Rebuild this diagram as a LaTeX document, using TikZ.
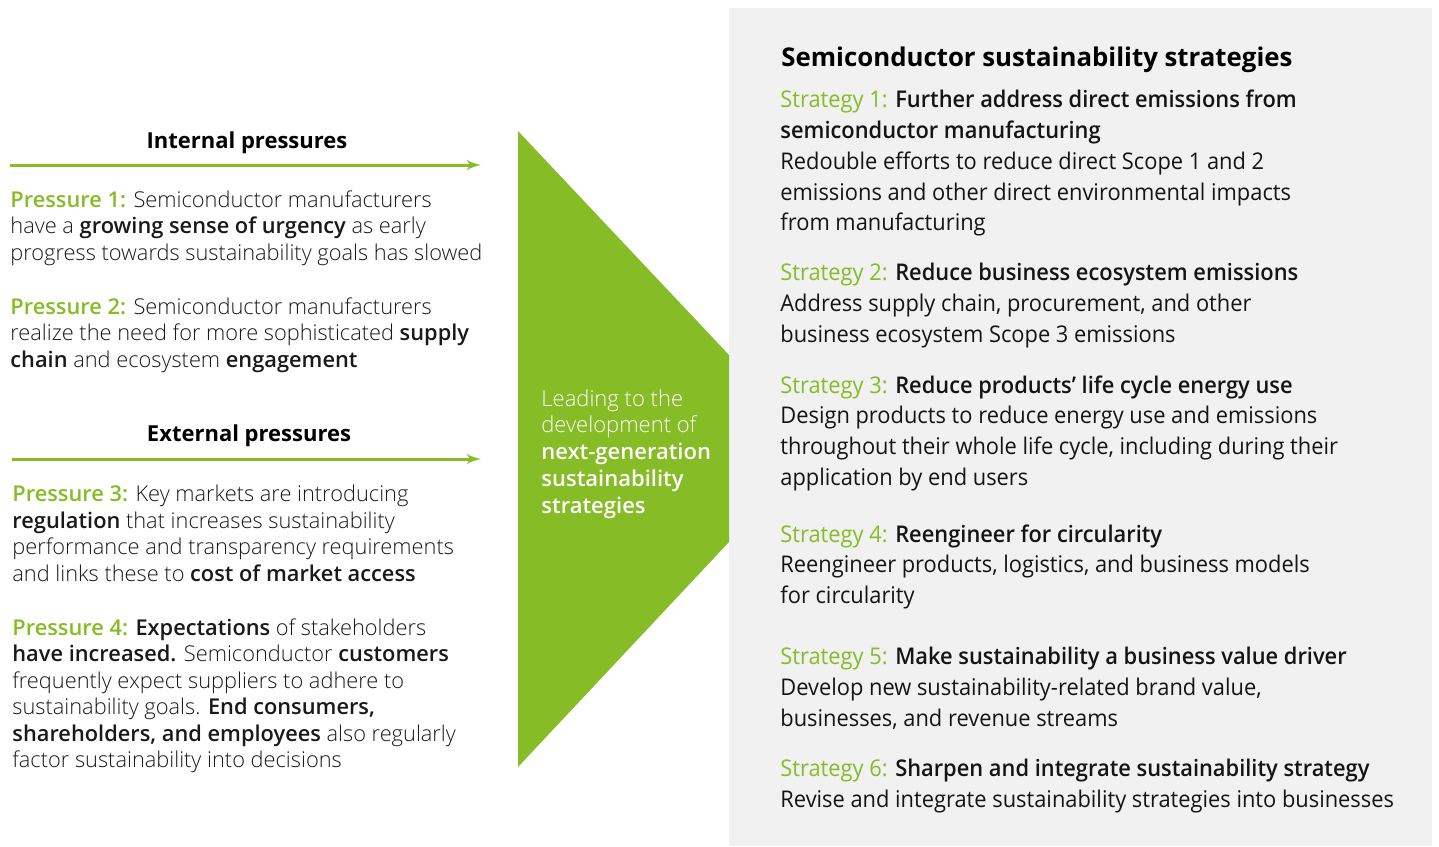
\documentclass[tikz,border=0pt]{standalone}
\usepackage{fontspec}
\setmainfont{Open Sans}
\newfontfamily\lightfont{Open Sans Light}[BoldFont={Open Sans Semibold}]
\newfontfamily\semifont{Open Sans Semibold}
\newfontfamily\stratfont{Open Sans}[FakeStretch=0.95]
\newfontfamily\stratsemi{Open Sans Semibold}[FakeStretch=0.95]
\usepackage{tikz}
\usetikzlibrary{arrows}
\definecolor{dgreen}{HTML}{86BC25}
\definecolor{panelgray}{HTML}{F1F1F1}
\newcommand{\pr}[1]{{\semifont\color{dgreen}#1}}
\newcommand{\st}[1]{{\color{dgreen}#1}}
\newcommand{\sembf}[1]{{\stratsemi #1}}

\begin{document}
\begin{tikzpicture}[x=0.5pt,y=-0.5pt,>=latex']
 \tikzstyle{ptext}=[anchor=north west,inner sep=0pt,align=left,text=black!90,
   font=\lightfont\fontsize{10.9}{13.25}\selectfont]
 \tikzstyle{stext}=[anchor=north west,inner sep=0pt,align=left,text=black!92,
   font=\stratfont\fontsize{11.5}{15.35}\selectfont]
 \tikzstyle{head}=[inner sep=0pt,font=\bfseries\fontsize{11}{13}\selectfont]
 \tikzstyle{push}=[->,dgreen,line width=1.5pt]
 \useasboundingbox (0,0) rectangle (1439,846);

 % panel and chevron
 \fill[panelgray] (729,8) rectangle (1432,846);
 \fill[dgreen] (518,131) -- (729,355) -- (729,542) -- (518,767) -- cycle;

 \node (inthead) at (247,143) [head] {Internal pressures};
 \node (exthead) at (249,436) [head] {External pressures};

 \coordinate (intstart) at (10,165);
 \coordinate (intend) at (481,165);
 \coordinate (extstart) at (12,459);
 \coordinate (extend) at (481,459);
 \draw [push] (intstart) -- (intend);
 \draw [push] (extstart) -- (extend);

 \node (p1) at (10,190) [ptext] {\pr{Pressure 1:} Semiconductor manufacturers\\
   have a \textbf{growing sense of urgency} as early\\
   progress towards sustainability goals has slowed};
 \node (p2) at (10,297) [ptext] {\pr{Pressure 2:} Semiconductor manufacturers\\
   realize the need for more sophisticated \textbf{supply}\\
   \textbf{chain} and ecosystem \textbf{engagement}};
 \node (p3) at (12,485) [ptext] {\pr{Pressure 3:} Key markets are introducing\\
   \textbf{regulation} that increases sustainability\\
   performance and transparency requirements\\
   and links these to \textbf{cost of market access}};
 \node (p4) at (12,618) [ptext] {\pr{Pressure 4:} \textbf{Expectations} of stakeholders\\
   \textbf{have increased.} Semiconductor \textbf{customers}\\
   frequently expect suppliers to adhere to\\
   sustainability goals. \textbf{End consumers,}\\
   \textbf{shareholders, and employees} also regularly\\
   factor sustainability into decisions};

 \node (lead) at (541,389) [ptext,text=white,font=\lightfont\fontsize{11}{13.4}\selectfont]
   {Leading to the\\ development of\\ \textbf{next-generation}\\
   \textbf{sustainability}\\ \textbf{strategies}};

 % strategies
 \node (title) at (781,60) [anchor=west,inner sep=0pt,font=\bfseries\fontsize{12.9}{15}\selectfont]
   {Semiconductor sustainability strategies};
 \node (s1) at (780,90) [stext] {\st{Strategy 1:} \sembf{Further address direct emissions from}\\
   \sembf{semiconductor manufacturing}\\
   Redouble efforts to reduce direct Scope 1 and 2\\
   emissions and other direct environmental impacts\\
   from manufacturing};
 \node (s2) at (780,263) [stext] {\st{Strategy 2:} \sembf{Reduce business ecosystem emissions}\\
   Address supply chain, procurement, and other\\
   business ecosystem Scope 3 emissions};
 \node (s3) at (780,375) [stext] {\st{Strategy 3:} \sembf{Reduce products’ life cycle energy use}\\
   Design products to reduce energy use and emissions\\
   throughout their whole life cycle, including during their\\
   application by end users};
 \node (s4) at (780,524) [stext] {\st{Strategy 4:} \sembf{Reengineer for circularity}\\
   Reengineer products, logistics, and business models\\
   for circularity};
 \node (s5) at (780,647) [stext] {\st{Strategy 5:} \sembf{Make sustainability a business value driver}\\
   Develop new sustainability-related brand value,\\
   businesses, and revenue streams};
 \node (s6) at (780,759) [stext] {\st{Strategy 6:} \sembf{Sharpen and integrate sustainability strategy}\\
   Revise and integrate sustainability strategies into businesses};
\end{tikzpicture}
\end{document}
